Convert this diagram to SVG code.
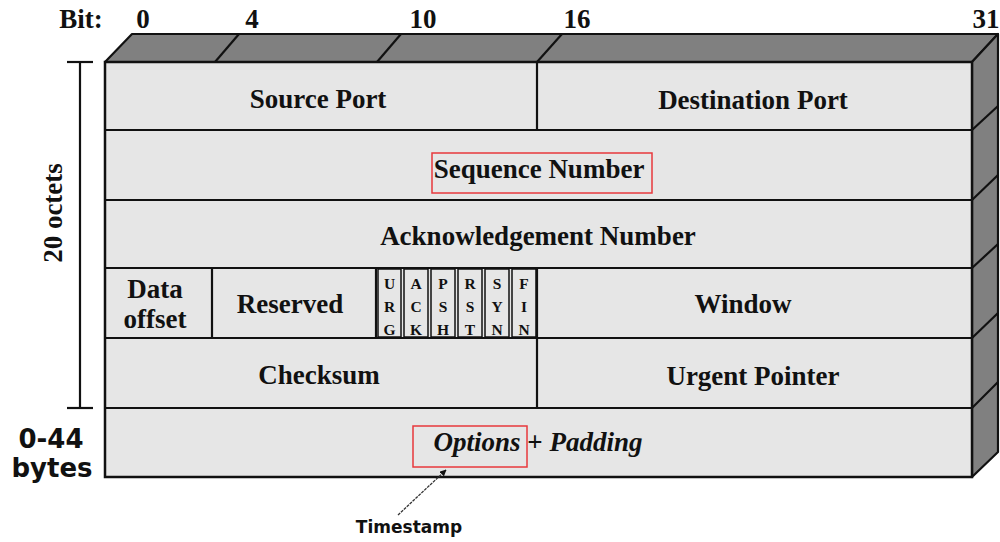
<svg xmlns="http://www.w3.org/2000/svg" width="1000" height="542" viewBox="0 0 1000 542">
<style>
.t{font-family:"Liberation Serif","Times New Roman",serif;font-weight:bold;font-size:27px;fill:#111;text-anchor:middle}
.f{font-family:"Liberation Serif","Times New Roman",serif;font-weight:bold;font-size:15.5px;fill:#111;text-anchor:middle}
.s{font-family:"DejaVu Sans",sans-serif;font-weight:bold;font-size:26px;fill:#111;text-anchor:middle}
.ln{stroke:#111;stroke-width:2.2;fill:none}
.face{fill:#e6e6e6;stroke:#111;stroke-width:2.5}
.dark{fill:#808080;stroke:#111;stroke-width:2.2;stroke-linejoin:round}
.red{fill:none;stroke:#e8383d;stroke-width:1.5}
.flag{fill:#e6e6e6;stroke:#111;stroke-width:1.5}
</style>
<defs>
<marker id="ah" viewBox="0 0 10 10" refX="9" refY="5" markerWidth="5" markerHeight="5" orient="auto">
<path d="M0,0 L10,5 L0,10 z" fill="#111"/>
</marker>
</defs>
<rect width="1000" height="542" fill="#fff"/>

<g id="bit-scale">
<text class="t" x="81" y="28">Bit:</text>
<text class="t" x="143" y="28">0</text>
<text class="t" x="252" y="28">4</text>
<text class="t" x="423" y="28">10</text>
<text class="t" x="577" y="28">16</text>
<text class="t" x="986" y="28">31</text>
</g>

<g id="box3d">
<polygon class="dark" points="105,62 132,34 998,34 972,62"/>
<polygon class="dark" points="972,62 998,34 998,452 972,477"/>
<line class="ln" x1="215" y1="62" x2="239" y2="34"/>
<line class="ln" x1="377" y1="62" x2="401" y2="34"/>
<line class="ln" x1="537" y1="62" x2="562" y2="34"/>
<line class="ln" x1="972" y1="130" x2="998" y2="106"/>
<line class="ln" x1="972" y1="200" x2="998" y2="175"/>
<line class="ln" x1="972" y1="268" x2="998" y2="244"/>
<line class="ln" x1="972" y1="338" x2="998" y2="313"/>
<line class="ln" x1="972" y1="408" x2="998" y2="382"/>
<rect class="face" x="105" y="62" width="867" height="415"/>
<line class="ln" x1="105" y1="130" x2="972" y2="130"/>
<line class="ln" x1="105" y1="200" x2="972" y2="200"/>
<line class="ln" x1="105" y1="268" x2="972" y2="268"/>
<line class="ln" x1="105" y1="338" x2="972" y2="338"/>
<line class="ln" x1="105" y1="408" x2="972" y2="408"/>
</g>

<g id="source-port">
<text class="t" x="318" y="108">Source Port</text>
</g>
<g id="destination-port">
<line class="ln" x1="537" y1="62" x2="537" y2="130"/>
<text class="t" x="753" y="109">Destination Port</text>
</g>
<g id="sequence-number">
<rect class="red" x="432" y="153" width="220" height="40"/>
<text class="t" x="539" y="178">Sequence Number</text>
</g>
<g id="acknowledgement-number">
<text class="t" x="538" y="245">Acknowledgement Number</text>
</g>
<g id="data-offset">
<line class="ln" x1="212" y1="268" x2="212" y2="338"/>
<text class="t" x="155" y="298">Data</text>
<text class="t" x="155" y="328">offset</text>
</g>
<g id="reserved">
<line class="ln" x1="376" y1="268" x2="376" y2="338"/>
<text class="t" x="290" y="313">Reserved</text>
</g>
<g id="flags">
<rect class="flag" x="378" y="269" width="23" height="68"/>
<rect class="flag" x="404" y="269" width="24" height="68"/>
<rect class="flag" x="431" y="269" width="24" height="68"/>
<rect class="flag" x="458" y="269" width="24" height="68"/>
<rect class="flag" x="485" y="269" width="24" height="68"/>
<rect class="flag" x="512" y="269" width="24" height="68"/>
<text class="f" x="389.5" y="289">U</text><text class="f" x="389.5" y="312">R</text><text class="f" x="389.5" y="335">G</text>
<text class="f" x="416" y="289">A</text><text class="f" x="416" y="312">C</text><text class="f" x="416" y="335">K</text>
<text class="f" x="443" y="289">P</text><text class="f" x="443" y="312">S</text><text class="f" x="443" y="335">H</text>
<text class="f" x="470" y="289">R</text><text class="f" x="470" y="312">S</text><text class="f" x="470" y="335">T</text>
<text class="f" x="497" y="289">S</text><text class="f" x="497" y="312">Y</text><text class="f" x="497" y="335">N</text>
<text class="f" x="524" y="289">F</text><text class="f" x="524" y="312">I</text><text class="f" x="524" y="335">N</text>
</g>
<g id="window">
<line class="ln" x1="537" y1="268" x2="537" y2="338"/>
<text class="t" x="743" y="313">Window</text>
</g>
<g id="checksum">
<text class="t" x="319" y="384">Checksum</text>
</g>
<g id="urgent-pointer">
<line class="ln" x1="537" y1="338" x2="537" y2="408"/>
<text class="t" x="753" y="385">Urgent Pointer</text>
</g>
<g id="options-padding">
<rect class="red" x="413" y="426" width="114" height="41"/>
<text class="t" x="538" y="451"><tspan font-style="italic">Options</tspan> + <tspan font-style="italic">Padding</tspan></text>
</g>

<g id="octets-bracket">
<line class="ln" x1="80" y1="62" x2="80" y2="408"/>
<line class="ln" x1="67" y1="62" x2="93" y2="62"/>
<line class="ln" x1="67" y1="408" x2="93" y2="408"/>
<text class="t" transform="translate(62,213) rotate(-90)" x="0" y="0">20 octets</text>
</g>
<g id="bytes-label">
<text class="s" x="51" y="448">0-44</text>
<text class="s" x="52" y="477">bytes</text>
</g>
<g id="timestamp">
<text x="409" y="533" font-family="DejaVu Sans, sans-serif" font-weight="bold" font-size="17" fill="#111" text-anchor="middle">Timestamp</text>
</g>

<g id="connectors">
<line x1="398" y1="515" x2="446" y2="470" stroke="#333" stroke-width="1.3" stroke-dasharray="3,1" marker-end="url(#ah)"/>
</g>
</svg>
